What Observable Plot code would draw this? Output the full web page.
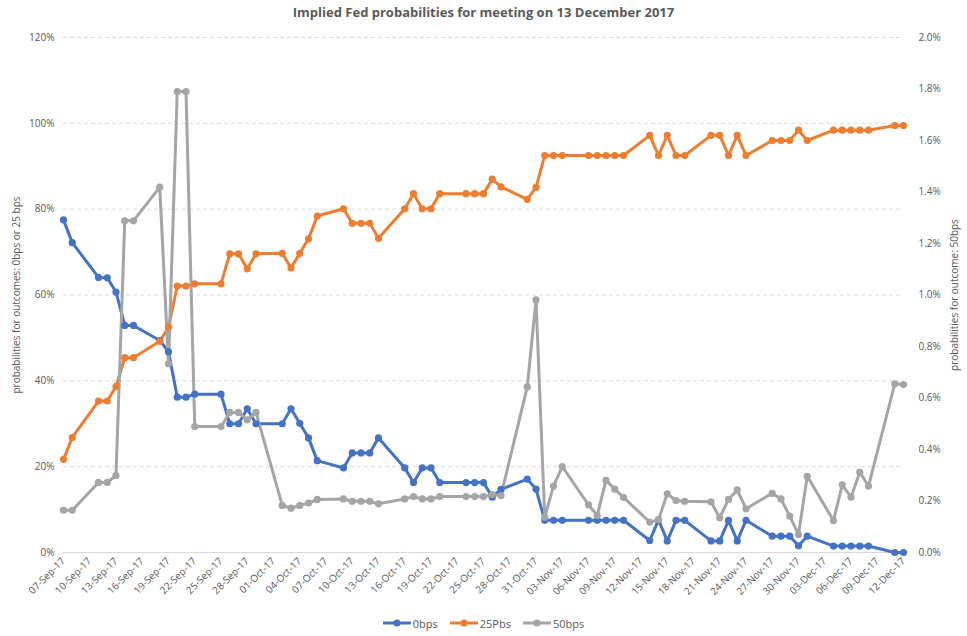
<!DOCTYPE html>
<html>
<head>
<meta charset="utf-8">
<script src="https://cdn.jsdelivr.net/npm/d3@7"></script>
<script src="https://cdn.jsdelivr.net/npm/@observablehq/plot@0.6"></script>
<style>
  body { margin: 0; background: #fff; font-family: "Open Sans", sans-serif; }
  #title { height: 25px; line-height: 25px; text-align: center; font-size: 13px; font-weight: bold; color: #595959; }
  #legend { display: flex; justify-content: center; gap: 12px; font-size: 11px; color: #595959; height: 26px; align-items: center; }
  #legend span { display: inline-flex; align-items: center; gap: 2px; }
</style>
</head>
<body>
<div id="title">Implied Fed probabilities for meeting on 13 December 2017</div>
<div id="chart"></div>
<div id="legend"></div>
<script>
const dates = [
  "2017-09-07","2017-09-08","2017-09-11","2017-09-12","2017-09-13","2017-09-14","2017-09-15","2017-09-18","2017-09-19","2017-09-20","2017-09-21","2017-09-22","2017-09-25","2017-09-26","2017-09-27","2017-09-28","2017-09-29",
  "2017-10-02","2017-10-03","2017-10-04","2017-10-05","2017-10-06","2017-10-09","2017-10-10","2017-10-11","2017-10-12","2017-10-13","2017-10-16","2017-10-17","2017-10-18","2017-10-19","2017-10-20","2017-10-23","2017-10-24","2017-10-25","2017-10-26","2017-10-27","2017-10-30","2017-10-31",
  "2017-11-01","2017-11-02","2017-11-03","2017-11-06","2017-11-07","2017-11-08","2017-11-09","2017-11-10","2017-11-13","2017-11-14","2017-11-15","2017-11-16","2017-11-17","2017-11-20","2017-11-21","2017-11-22","2017-11-23","2017-11-24","2017-11-27","2017-11-28","2017-11-29","2017-11-30",
  "2017-12-01","2017-12-04","2017-12-05","2017-12-06","2017-12-07","2017-12-08","2017-12-11","2017-12-12"
];
// percent values
const bps0 = [
  77.5,72.2,64.1,64.0,60.7,52.9,52.9,49.4,46.8,36.2,36.2,36.9,36.9,30.0,30.0,33.5,30.0,
  30.0,33.5,30.1,26.7,21.4,19.7,23.2,23.2,23.2,26.7,19.7,16.3,19.7,19.7,16.3,16.3,16.3,16.3,12.9,14.7,17.1,14.8,
  7.5,7.5,7.5,7.5,7.5,7.5,7.5,7.5,2.8,7.6,2.7,7.5,7.5,2.7,2.7,7.5,2.7,7.5,3.8,3.8,3.8,1.55,
  3.8,1.5,1.5,1.5,1.5,1.5,0,0
];
const bps25 = [
  21.7,26.8,35.3,35.3,38.7,45.4,45.4,49.2,52.5,62.1,62.1,62.6,62.6,69.6,69.6,66.1,69.6,
  69.7,66.3,69.7,73.1,78.4,80.1,76.7,76.7,76.7,73.2,80.1,83.6,80.1,80.1,83.6,83.6,83.6,83.6,87.0,85.2,82.3,85.1,
  92.5,92.5,92.5,92.5,92.5,92.5,92.5,92.5,97.2,92.5,97.2,92.5,92.5,97.2,97.2,92.5,97.2,92.5,96.0,96.0,96.0,98.4,
  96.0,98.4,98.4,98.4,98.4,98.4,99.5,99.5
];
const bps50 = [
  0.164,0.164,0.272,0.272,0.299,1.288,1.288,1.419,0.733,1.790,1.790,0.489,0.489,0.544,0.544,0.515,0.544,
  0.183,0.172,0.183,0.192,0.206,0.208,0.199,0.199,0.199,0.189,0.208,0.217,0.208,0.208,0.217,0.217,0.217,0.217,0.225,0.221,0.643,0.981,
  0.137,0.258,0.334,0.185,0.144,0.280,0.246,0.214,0.118,0.127,0.228,0.202,0.199,0.197,0.135,0.206,0.243,0.170,0.230,0.208,0.141,0.070,
  0.296,0.124,0.263,0.215,0.312,0.258,0.655,0.652
];
const seriesNames = ["0bps","25Pbs","50bps"];
const colors = ["#4472C4","#ED7D31","#A5A5A5"];
const leftTicks = [0,20,40,60,80,100,120];
const rightTicks = [0,0.2,0.4,0.6,0.8,1.0,1.2,1.4,1.6,1.8,2.0];
const ratio = 120 / 2.0;

const parse = d3.utcParse("%Y-%m-%d");
const start = parse("2017-09-07"), end = parse("2017-12-12");
const xTicks = d3.range(0, 33).map(i => d3.utcDay.offset(start, 3 * i));

const rows = [];
dates.forEach((d, i) => {
  rows.push({date: parse(d), s: "0bps", y: bps0[i]});
  rows.push({date: parse(d), s: "25Pbs", y: bps25[i]});
  rows.push({date: parse(d), s: "50bps", y: bps50[i] * ratio});
});

const font = "'Open Sans', sans-serif";
const chart = Plot.plot({
  width: 967,
  height: 585,
  marginTop: 12,
  marginBottom: 58,
  marginLeft: 63,
  marginRight: 64,
  style: {fontFamily: font, fontSize: "10px", color: "#595959", background: "#fff"},
  x: {type: "utc", domain: [start, end]},
  y: {domain: [0, 120]},
  color: {domain: seriesNames, range: colors},
  marks: [
    Plot.ruleY(leftTicks.filter(t => t > 0), {stroke: "#d9d9d9", strokeDasharray: "4,3", strokeWidth: 1}),
    Plot.ruleY([0], {stroke: "#d9d9d9", strokeWidth: 1}),
    Plot.axisY({anchor: "left", ticks: leftTicks, tickFormat: d => d + "%", tickSize: 0, tickPadding: 9,
      label: "probabilities for outcomes: 0bps or 25 bps", labelAnchor: "center", labelArrow: "none", labelOffset: 51, fontSize: 10}),
    Plot.axisY({anchor: "right", ticks: rightTicks.map(v => v * ratio), tickFormat: d => (d / ratio).toFixed(1) + "%", tickSize: 0, tickPadding: 15,
      label: "probabilities for outcome: 50bps", labelAnchor: "center", labelArrow: "none", labelOffset: 54, fontSize: 10}),
    Plot.axisX({ticks: xTicks, tickFormat: d3.utcFormat("%d-%b-%y"), tickRotate: -45, tickSize: 0, tickPadding: 7, label: null, fontSize: 10}),
    Plot.line(rows, {x: "date", y: "y", z: "s", stroke: "s", strokeWidth: 3, strokeLinejoin: "round"}),
    Plot.dot(rows, {x: "date", y: "y", fill: "s", r: 3.6}),
  ]
});
document.getElementById("chart").appendChild(chart);

const legend = document.getElementById("legend");
seriesNames.forEach((n, i) => {
  const s = document.createElement("span");
  s.innerHTML = `<svg width="28" height="10"><line x1="0" x2="28" y1="5" y2="5" stroke="${colors[i]}" stroke-width="3"/><circle cx="14" cy="5" r="3.6" fill="${colors[i]}"/></svg>${n}`;
  legend.appendChild(s);
});
</script>
</body>
</html>
